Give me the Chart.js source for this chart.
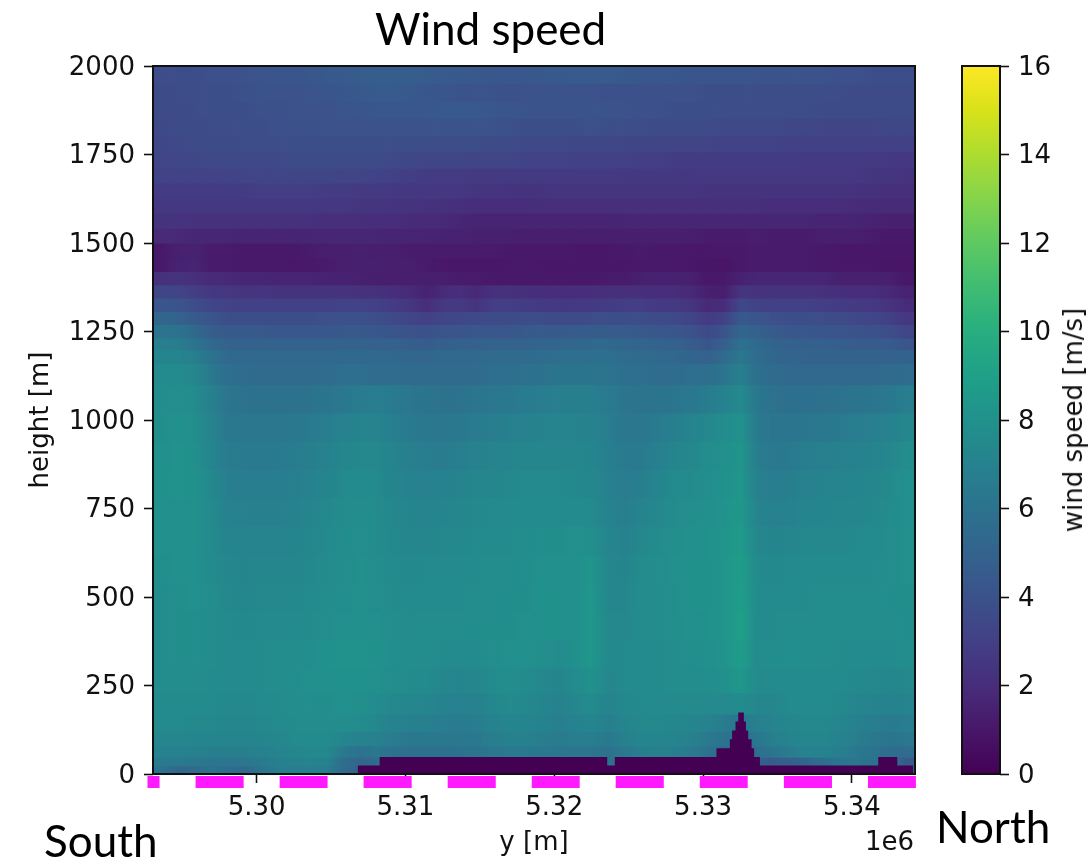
<!DOCTYPE html>
<html>
<head>
<meta charset="utf-8">
<title>Wind speed</title>
<script src="https://cdn.jsdelivr.net/npm/chart.js@4/dist/chart.umd.min.js"></script>
<style>
body{margin:0;background:#fff;width:1088px;height:859px;overflow:hidden;position:relative}
canvas{position:absolute;top:0}
.lbl{position:absolute;color:#000;white-space:nowrap;line-height:1}
.slide{font-family:Lato,sans-serif;font-size:44px}
.mpl{font-family:"DejaVu Sans",sans-serif;font-size:26px;color:#111}
</style>
</head>
<body>
<canvas id="heatChart" width="1088" height="859" style="left:0"></canvas>
<canvas id="barChart" width="158" height="859" style="left:930px"></canvas>
<div class="lbl slide" style="left:375px;top:6px">Wind speed</div>
<div class="lbl slide" style="left:44px;top:818px">South</div>
<div class="lbl slide" style="left:936px;top:804px">North</div>
<div class="lbl mpl" style="left:865px;top:828px">1e6</div>
<div class="lbl mpl" style="left:1073px;top:420px;transform:translate(-50%,-50%) rotate(-90deg)">wind speed [m/s]</div>
<script>
// grid columns, y [m]
const yCells=[5293600,5294710,5295820,5296940,5298050,5299160,5300280,5301390,5302500,5303610,5304730,5305840,5306950,5308070,5309180,5310290,5311400,5312520,5313630,5314740,5315860,5316970,5318080,5319190,5320310,5321420,5322530,5323650,5324760,5325870,5326980,5328100,5329210,5330320,5331440,5332550,5333660,5334770,5335890,5337000,5338110,5339230,5340340,5341450,5342560,5343680];
// row edges, height [m], top to bottom
const rowEdges=[2000,1952,1900,1853,1805,1758,1712,1670,1627,1585,1542,1500,1458,1420,1382,1345,1307,1270,1232,1199,1160,1100,1020,940,860,780,700,620,540,460,380,300,230,170,120,80,48,24,0];

// wind speed [m/s] per row
const row00=[3.7,3.8,3.8,3.9,3.9,4.0,4.1,4.2,4.2,4.3,4.4,4.5,4.6,4.7,4.7,4.7,4.6,4.5,4.4,4.4,4.3,4.3,4.3,4.4,4.4,4.5,4.5,4.5,4.4,4.3,4.3,4.3,4.2,4.2,4.2,4.2,4.1,4.1,4.1,4.0,4.0,3.9,3.9,3.8,3.8,3.8];
const row01=[3.6,3.7,3.7,3.8,3.8,3.9,4.0,4.0,4.0,4.1,4.2,4.3,4.4,4.5,4.5,4.4,4.3,4.2,4.1,4.1,4.0,3.9,4.0,4.0,4.0,4.0,4.0,3.9,3.9,3.9,3.9,3.9,3.9,3.8,3.8,3.8,3.7,3.7,3.7,3.7,3.7,3.7,3.6,3.6,3.6,3.6];
const row02=[3.6,3.6,3.7,3.8,3.8,3.8,3.9,3.9,4.0,4.0,4.0,4.1,4.2,4.3,4.3,4.3,4.3,4.4,4.4,4.4,4.3,4.2,4.1,4.1,4.1,4.1,4.1,4.0,4.0,3.9,3.9,3.8,3.8,3.8,3.7,3.7,3.7,3.7,3.7,3.7,3.6,3.6,3.6,3.6,3.6,3.6];
const row03=[3.5,3.6,3.6,3.7,3.7,3.8,3.8,3.9,3.9,3.9,4.0,4.0,4.0,4.0,4.0,4.0,4.0,4.1,4.1,4.1,4.0,3.9,3.8,3.8,3.8,3.8,3.9,3.8,3.7,3.7,3.6,3.6,3.6,3.6,3.5,3.5,3.5,3.5,3.4,3.4,3.3,3.3,3.3,3.3,3.4,3.4];
const row04=[3.4,3.5,3.6,3.6,3.6,3.7,3.7,3.7,3.8,3.8,3.8,3.8,3.8,3.8,3.7,3.7,3.7,3.7,3.7,3.7,3.6,3.6,3.5,3.5,3.5,3.4,3.4,3.4,3.3,3.3,3.3,3.2,3.2,3.2,3.1,3.1,3.1,3.1,3.0,3.0,3.0,3.0,3.0,3.0,3.0,3.0];
const row05=[3.3,3.4,3.4,3.5,3.5,3.5,3.5,3.5,3.6,3.6,3.6,3.6,3.6,3.6,3.5,3.4,3.3,3.3,3.3,3.2,3.2,3.2,3.1,3.1,3.1,3.0,3.0,3.0,3.0,2.9,2.9,2.8,2.8,2.8,2.8,2.8,2.8,2.8,2.8,2.7,2.7,2.7,2.7,2.7,2.6,2.5];
const row06=[3.1,3.1,3.1,3.1,3.1,3.2,3.2,3.3,3.3,3.3,3.3,3.2,3.2,3.1,3.0,2.9,2.8,2.8,2.8,2.7,2.7,2.7,2.7,2.7,2.7,2.7,2.7,2.7,2.6,2.6,2.6,2.6,2.5,2.5,2.5,2.5,2.5,2.5,2.5,2.5,2.5,2.5,2.5,2.4,2.4,2.3];
const row07=[2.8,2.8,2.8,2.8,2.8,2.8,2.9,2.9,2.9,2.9,2.8,2.8,2.7,2.7,2.6,2.6,2.5,2.5,2.5,2.4,2.4,2.3,2.3,2.3,2.4,2.4,2.4,2.4,2.4,2.4,2.4,2.4,2.4,2.3,2.3,2.3,2.3,2.3,2.3,2.3,2.3,2.3,2.2,2.2,2.1,2.1];
const row08=[2.6,2.6,2.6,2.6,2.6,2.6,2.6,2.6,2.6,2.6,2.5,2.5,2.4,2.4,2.3,2.3,2.2,2.2,2.1,2.0,2.0,2.0,2.0,2.1,2.1,2.1,2.1,2.1,2.1,2.1,2.1,2.1,2.1,2.1,2.1,2.1,2.1,2.0,2.0,2.0,2.0,2.0,1.9,1.9,1.9,1.9];
const row09=[2.3,2.3,2.2,2.2,2.2,2.2,2.2,2.2,2.2,2.2,2.1,2.1,2.1,2.0,2.0,1.9,1.9,1.8,1.7,1.6,1.6,1.6,1.6,1.6,1.6,1.6,1.6,1.6,1.7,1.7,1.7,1.7,1.7,1.7,1.7,1.7,1.7,1.7,1.7,1.7,1.6,1.6,1.6,1.5,1.4,1.4];
const row10=[1.9,1.8,1.7,1.7,1.7,1.6,1.6,1.6,1.6,1.7,1.7,1.7,1.7,1.7,1.6,1.6,1.6,1.5,1.5,1.4,1.4,1.4,1.3,1.3,1.3,1.3,1.3,1.3,1.3,1.3,1.3,1.3,1.3,1.2,1.2,1.2,1.3,1.2,1.2,1.2,1.3,1.3,1.3,1.2,1.1,1.1];
const row11=[1.1,1.4,1.5,1.2,1.2,1.1,1.1,1.1,1.1,1.2,1.3,1.3,1.4,1.3,1.3,1.2,1.2,1.2,1.2,1.2,1.2,1.1,1.1,1.1,1.1,1.0,1.0,1.0,1.1,1.2,1.1,1.1,1.0,1.0,1.1,1.1,1.2,1.2,1.2,1.2,1.1,1.0,1.0,1.0,1.0,1.0];
const row12=[1.1,1.5,1.6,1.2,1.2,1.1,1.1,1.1,1.0,1.1,1.2,1.3,1.4,1.4,1.3,1.3,1.2,1.0,1.0,1.0,1.0,1.0,1.1,1.0,1.0,1.0,1.0,1.0,1.0,1.1,1.1,1.1,1.0,0.9,0.9,1.1,1.2,1.2,1.2,1.2,1.1,1.0,1.0,1.0,0.9,0.9];
const row13=[2.2,2.3,2.1,1.9,1.8,1.7,1.7,1.6,1.6,1.6,1.5,1.5,1.4,1.3,1.3,1.3,1.3,1.3,1.2,1.2,1.1,1.1,1.1,1.1,1.1,1.1,1.1,1.2,1.2,1.4,1.5,1.5,1.4,1.0,1.1,1.5,1.7,1.7,1.7,1.7,1.7,1.4,1.4,1.4,1.4,1.0];
const row14=[3.3,3.2,2.9,2.6,2.5,2.4,2.4,2.3,2.3,2.3,2.3,2.3,2.2,2.2,2.0,1.9,1.5,1.9,2.1,1.8,2.2,2.2,2.1,2.0,2.0,2.0,2.1,2.1,2.1,2.1,2.0,2.0,1.8,1.4,1.3,2.4,2.3,2.3,2.3,2.3,2.2,2.1,2.0,2.0,1.8,1.5];
const row15=[4.2,4.1,3.7,3.3,3.1,3.0,3.0,3.0,3.0,3.0,3.0,3.1,3.1,3.0,2.8,2.5,2.0,2.6,2.7,2.3,2.9,2.9,2.8,2.7,2.6,2.6,2.7,2.8,2.9,2.9,2.7,2.7,2.4,1.8,2.0,3.4,3.1,3.0,3.0,3.0,2.9,2.8,2.7,2.6,2.3,1.9];
const row16=[5.2,5.0,4.5,4.1,3.8,3.8,3.8,3.8,3.8,3.8,3.9,3.9,3.9,3.8,3.5,3.3,3.0,3.3,3.4,3.5,3.6,3.6,3.7,3.7,3.6,3.6,3.7,3.8,3.8,3.7,3.6,3.5,3.2,2.7,3.1,4.4,4.2,3.9,3.8,3.8,3.7,3.6,3.4,3.3,3.0,2.5];
const row17=[6.1,6.0,5.4,4.7,4.4,4.4,4.4,4.3,4.3,4.3,4.3,4.4,4.4,4.3,4.2,4.0,3.9,4.1,4.2,4.3,4.3,4.3,4.4,4.5,4.4,4.5,4.6,4.6,4.5,4.4,4.3,4.3,4.0,3.5,4.1,5.2,4.8,4.5,4.3,4.3,4.2,4.1,4.0,3.9,3.8,3.3];
const row18=[6.8,6.7,6.1,5.4,5.0,4.9,5.0,5.0,5.0,5.0,5.0,5.0,5.0,4.9,4.9,4.7,4.6,4.8,4.9,4.9,5.0,5.0,5.0,5.1,5.2,5.2,5.3,5.3,5.2,5.1,5.0,4.9,4.6,4.2,4.8,5.9,5.4,5.0,4.9,4.8,4.8,4.7,4.6,4.5,4.5,4.2];
const row19=[7.2,7.2,6.8,6.0,5.4,5.3,5.3,5.3,5.3,5.3,5.3,5.4,5.4,5.3,5.3,5.2,5.2,5.3,5.4,5.4,5.5,5.5,5.5,5.6,5.7,5.7,5.8,5.8,5.6,5.5,5.4,5.3,5.1,4.9,5.5,6.3,5.6,5.2,5.1,5.0,5.0,5.0,5.0,5.0,5.0,5.0];
const row20=[7.5,7.6,7.3,6.4,5.7,5.6,5.5,5.5,5.5,5.5,5.6,5.7,5.7,5.6,5.6,5.5,5.5,5.5,5.5,5.5,5.7,5.8,5.9,6.0,6.1,6.1,6.1,6.0,5.8,5.7,5.6,5.6,5.7,5.7,6.2,6.8,5.8,5.5,5.4,5.3,5.3,5.3,5.4,5.4,5.5,5.6];
const row21=[7.7,7.8,7.6,6.9,6.2,6.0,6.0,6.0,6.0,6.0,6.2,6.4,6.6,6.7,6.5,6.3,6.1,6.0,6.0,6.2,6.3,6.4,6.6,6.7,6.8,6.8,6.8,6.5,6.2,6.0,6.1,6.2,6.4,6.6,7.0,7.5,6.3,5.9,5.8,5.8,5.9,6.0,6.1,6.2,6.4,6.7];
const row22=[7.8,8.0,7.8,7.1,6.4,6.3,6.3,6.3,6.4,6.5,6.7,7.0,7.1,7.1,6.8,6.5,6.4,6.3,6.4,6.6,6.7,6.9,7.0,7.1,7.1,7.1,7.0,6.7,6.3,6.3,6.6,6.8,7.1,7.4,7.7,8.0,6.5,6.2,6.2,6.3,6.4,6.5,6.7,6.8,7.0,7.3];
const row23=[7.9,8.1,7.9,7.2,6.6,6.5,6.5,6.5,6.6,6.8,7.0,7.3,7.4,7.4,7.1,6.8,6.7,6.6,6.8,7.0,7.1,7.2,7.3,7.3,7.3,7.3,7.2,6.8,6.5,6.5,6.9,7.2,7.4,7.7,7.9,8.2,6.7,6.4,6.5,6.7,6.8,6.9,7.0,7.1,7.3,7.7];
const row24=[8.0,8.1,8.0,7.4,6.8,6.7,6.7,6.7,6.8,7.0,7.2,7.5,7.6,7.5,7.2,7.0,6.9,7.0,7.1,7.3,7.3,7.4,7.5,7.5,7.5,7.4,7.3,6.9,6.6,6.8,7.2,7.5,7.6,7.8,8.0,8.3,6.9,6.6,6.8,7.0,7.1,7.1,7.2,7.3,7.5,7.9];
const row25=[7.9,8.0,7.9,7.5,7.0,6.9,6.9,6.9,7.0,7.2,7.4,7.6,7.7,7.6,7.3,7.2,7.1,7.2,7.3,7.4,7.5,7.5,7.6,7.6,7.6,7.6,7.5,7.0,6.8,7.1,7.4,7.6,7.8,7.9,8.1,8.4,7.1,6.9,7.0,7.2,7.2,7.3,7.3,7.4,7.6,7.9];
const row26=[7.9,8.0,7.9,7.5,7.2,7.1,7.1,7.1,7.2,7.3,7.5,7.7,7.8,7.6,7.4,7.3,7.3,7.4,7.4,7.5,7.6,7.6,7.7,7.8,7.8,7.9,7.8,7.2,7.0,7.4,7.6,7.8,7.9,8.0,8.2,8.6,7.3,7.2,7.3,7.4,7.4,7.4,7.5,7.5,7.7,7.9];
const row27=[7.8,7.9,7.9,7.6,7.3,7.2,7.3,7.3,7.3,7.4,7.6,7.7,7.9,7.7,7.5,7.4,7.5,7.5,7.5,7.6,7.7,7.7,7.8,7.9,7.9,7.9,8.2,7.3,7.2,7.6,7.7,7.9,8.0,8.0,8.2,8.8,7.5,7.4,7.5,7.5,7.6,7.6,7.6,7.6,7.7,7.9];
const row28=[7.7,7.8,7.9,7.7,7.4,7.3,7.4,7.4,7.4,7.5,7.7,7.8,7.9,7.8,7.6,7.5,7.6,7.6,7.6,7.7,7.7,7.8,7.8,8.0,8.0,7.9,8.3,7.3,7.3,7.6,7.7,7.8,8.0,8.0,8.2,8.8,7.6,7.5,7.6,7.6,7.7,7.7,7.7,7.7,7.8,7.8];
const row29=[7.7,7.8,7.8,7.7,7.5,7.4,7.5,7.5,7.5,7.6,7.8,7.9,8.0,7.9,7.7,7.6,7.7,7.7,7.7,7.8,7.8,7.8,7.9,8.0,8.0,7.9,8.3,7.4,7.4,7.6,7.7,7.8,7.9,8.0,8.2,8.9,7.6,7.6,7.7,7.7,7.7,7.7,7.7,7.7,7.7,7.8];
const row30=[7.7,7.8,7.8,7.7,7.5,7.5,7.6,7.7,7.7,7.8,8.0,8.1,8.1,8.0,7.8,7.7,7.7,7.6,7.5,7.6,7.8,7.9,7.9,7.8,7.6,7.9,8.3,7.4,7.5,7.6,7.6,7.7,7.8,7.9,8.1,8.8,7.6,7.7,7.8,7.7,7.7,7.6,7.6,7.6,7.6,7.7];
const row31=[7.7,7.7,7.7,7.6,7.5,7.5,7.6,7.7,7.8,7.9,7.9,8.0,8.0,7.9,7.7,7.6,7.5,7.3,7.2,7.3,7.6,7.7,7.6,7.4,7.2,7.6,8.0,7.3,7.5,7.6,7.6,7.7,7.7,7.8,7.9,8.4,7.5,7.5,7.6,7.6,7.6,7.5,7.4,7.4,7.3,7.4];
const row32=[7.6,7.6,7.6,7.5,7.4,7.4,7.5,7.6,7.7,7.8,7.8,7.9,7.8,7.6,7.4,7.3,7.2,7.0,6.9,7.0,7.3,7.5,7.4,7.2,7.0,7.3,7.6,7.1,7.4,7.5,7.5,7.5,7.5,7.5,7.5,7.6,7.3,7.3,7.5,7.5,7.5,7.4,7.2,7.1,7.0,7.1];
const row33=[7.5,7.5,7.4,7.4,7.3,7.3,7.4,7.5,7.6,7.7,7.7,7.7,7.6,7.3,7.0,6.9,6.8,6.7,6.6,6.7,7.0,7.2,7.2,7.0,6.8,7.0,7.2,6.8,7.2,7.4,7.4,7.3,7.2,7.0,6.6,6.3,6.9,7.1,7.3,7.4,7.4,7.2,6.9,6.7,6.5,6.7];
const row34=[7.3,7.3,7.2,7.2,7.1,7.1,7.2,7.3,7.5,7.6,7.6,7.2,7.0,6.9,6.6,6.4,6.4,6.4,6.3,6.4,6.7,6.9,6.9,6.7,6.5,6.7,6.7,6.4,6.9,7.2,7.2,7.1,6.9,6.5,6.0,6.0,6.3,6.8,7.1,7.3,7.3,7.0,6.7,6.4,6.1,6.3];
const row35=[7.0,7.0,6.9,6.8,6.8,6.8,6.9,7.1,7.3,7.4,7.4,6.4,6.0,6.3,6.0,5.9,6.0,6.0,6.0,6.1,6.3,6.5,6.5,6.4,6.2,6.3,6.2,6.0,6.5,6.8,6.9,6.8,6.5,6.0,5.5,5.5,5.8,6.2,6.7,7.0,7.0,6.8,6.4,6.1,5.6,5.6];
const row36=[6.5,6.5,6.4,6.2,6.2,6.3,6.5,6.8,7.0,7.1,7.0,5.6,5.2,5.6,6.0,6.0,6.0,6.0,6.0,6.0,6.0,6.0,6.0,6.0,6.0,6.0,6.0,6.0,6.0,6.0,6.0,6.0,6.0,6.0,6.0,6.0,4.8,4.6,4.8,5.2,5.8,6.2,6.3,6.0,6.0,4.4];
const row37=[6.0,5.3,5.5,6.0,5.6,5.4,6.2,6.7,6.7,6.7,6.7,5.6,4.9,5.0,5.0,5.0,5.0,5.0,5.0,5.0,5.0,5.0,5.0,5.0,5.0,5.0,5.0,5.0,5.0,5.0,5.0,5.0,5.0,5.0,5.0,5.0,5.0,5.0,5.0,5.0,5.0,5.0,5.0,5.0,5.0,5.0];
const speedRows=[row00,row01,row02,row03,row04,row05,row06,row07,row08,row09,row10,row11,row12,row13,row14,row15,row16,row17,row18,row19,row20,row21,row22,row23,row24,row25,row26,row27,row28,row29,row30,row31,row32,row33,row34,row35,row36,row37];

// terrain outline
const terrainY=[5306790,5308270,5323560,5324070,5330900,5331800,5331950,5332180,5332360,5332740,5332880,5333030,5333260,5333430,5333820,5341770,5343050,5344120];
const terrainTop=[24,48,24,48,73,98,123,148,174,148,123,98,73,48,24,48,24,24];

// magenta strips under the axis
const stripStart=[5292670,5295900,5301550,5307190,5312840,5318490,5324130,5329780,5335430,5341080];
const stripEnd=[5293480,5299130,5304770,5310420,5316070,5321710,5327360,5333000,5338660,5344300];
const stripLevel=-22.6;

const xTickValues=[5300000,5310000,5320000,5330000,5340000];
const xTickLabels=["5.30","5.31","5.32","5.33","5.34"];
const yTickValues=[0,250,500,750,1000,1250,1500,1750,2000];
const barTickValues=[0,2,4,6,8,10,12,14,16];

const viridis=["#440154","#481769","#472d7b","#424086","#3b528b","#33638d","#2c728e","#26828e","#21918c","#1fa088","#28ae80","#3fbc73","#5ec962","#84d44b","#addc30","#d8e219","#fde725"];

const tickFont={family:"'DejaVu Sans'",size:26};
const inkColor="#111";

function hexToRgb(h){
  return [parseInt(h.slice(1,3),16),parseInt(h.slice(3,5),16),parseInt(h.slice(5,7),16)];
}
function speedColor(v){
  const i=Math.min(Math.floor(v),15);
  const f=v-i;
  const a=hexToRgb(viridis[i]),b=hexToRgb(viridis[i+1]);
  return "rgb("+a.map((c,k)=>Math.round(c+(b[k]-c)*f)).join(",")+")";
}

// cell shading fades into its neighbours, like the smoothed image
function cellFill(row){
  return (ctx)=>{
    const i=ctx.dataIndex;
    const chart=ctx.chart;
    if(i===undefined||!chart.chartArea)return speedColor(row[0]);
    const px=chart.scales.x.getPixelForValue(yCells[i]);
    const prev=i>0?row[i-1]:row[i];
    const next=i<row.length-1?row[i+1]:row[i];
    const g=chart.ctx.createLinearGradient(px-8.3,0,px+8.3,0);
    g.addColorStop(0,speedColor((prev+row[i])/2));
    g.addColorStop(0.5,speedColor(row[i]));
    g.addColorStop(1,speedColor((next+row[i])/2));
    return g;
  };
}

const framePlugin={
  id:"frame",
  afterDatasetsDraw(chart){
    const {ctx,chartArea:a}=chart;
    ctx.save();
    ctx.strokeStyle=inkColor;
    ctx.lineWidth=2;
    ctx.strokeRect(a.left,a.top,a.right-a.left,a.bottom-a.top);
    ctx.restore();
  }
};

const heatSets=speedRows.map((row,r)=>({
  type:"bar",
  data:yCells.map((x,i)=>({x:x,y:[rowEdges[r+1],rowEdges[r]]})),
  backgroundColor:cellFill(row),
  barThickness:17.6,
  grouped:false,
  inflateAmount:0.6,
  borderWidth:0,
  order:1
}));

const stripPoints=[];
stripStart.forEach((s,i)=>{
  stripPoints.push({x:s,y:stripLevel},{x:stripEnd[i],y:stripLevel},{x:stripEnd[i],y:null});
});

new Chart(document.getElementById("heatChart"),{
  type:"bar",
  data:{datasets:[
    {
      type:"line",
      data:terrainY.map((x,i)=>({x:x,y:terrainTop[i]})),
      stepped:true,
      fill:"origin",
      backgroundColor:"#440154",
      borderWidth:0,
      pointRadius:0,
      order:-1
    },
    {
      type:"line",
      data:stripPoints,
      borderColor:"#ff19ff",
      borderWidth:12,
      pointRadius:0,
      spanGaps:false,
      clip:false,
      order:-2
    },
    ...heatSets
  ]},
  options:{
    responsive:false,
    animation:false,
    layout:{padding:{top:66,right:173,left:0,bottom:0}},
    plugins:{legend:{display:false},tooltip:{enabled:false},title:{display:false}},
    scales:{
      x:{
        type:"linear",
        min:5293040,
        max:5344240,
        offset:false,
        afterFit(s){s.height=85},
        afterBuildTicks(s){s.ticks=xTickValues.map(v=>({value:v}))},
        grid:{offset:false,drawOnChartArea:false,tickLength:9,tickWidth:1.6,tickColor:inkColor},
        border:{display:false},
        ticks:{font:tickFont,color:inkColor,padding:10,maxRotation:0,autoSkip:false,callback:(v,i)=>xTickLabels[i]},
        title:{display:true,text:"y [m]",font:tickFont,color:inkColor,padding:{top:0,bottom:0}}
      },
      y:{
        type:"linear",
        min:0,
        max:2000,
        afterFit(s){s.width=153},
        afterBuildTicks(s){s.ticks=yTickValues.map(v=>({value:v}))},
        grid:{drawOnChartArea:false,tickLength:9,tickWidth:1.6,tickColor:inkColor},
        border:{display:false},
        ticks:{font:tickFont,color:inkColor,padding:9,autoSkip:false,labelOffset:2,callback:(v)=>String(v)},
        title:{display:true,text:"height [m]",font:tickFont,color:inkColor,padding:{top:26,bottom:0}}
      }
    }
  },
  plugins:[framePlugin]
});

new Chart(document.getElementById("barChart"),{
  type:"bar",
  data:{
    labels:["wind speed"],
    datasets:[{
      data:[[0,16]],
      barPercentage:1,
      categoryPercentage:1,
      backgroundColor(ctx){
        const a=ctx.chart.chartArea;
        if(!a)return viridis[8];
        const g=ctx.chart.ctx.createLinearGradient(0,a.bottom,0,a.top);
        viridis.forEach((c,i)=>g.addColorStop(i/16,c));
        return g;
      }
    }]
  },
  options:{
    responsive:false,
    animation:false,
    layout:{padding:{top:66,left:32,bottom:85,right:0}},
    plugins:{legend:{display:false},tooltip:{enabled:false}},
    scales:{
      x:{display:false},
      y:{
        position:"right",
        min:0,
        max:16,
        afterFit(s){s.width=88},
        afterBuildTicks(s){s.ticks=barTickValues.map(v=>({value:v}))},
        grid:{drawOnChartArea:false,tickLength:9,tickWidth:1.6,tickColor:inkColor},
        border:{display:false},
        ticks:{font:tickFont,color:inkColor,padding:9,autoSkip:false,labelOffset:2}
      }
    }
  },
  plugins:[framePlugin]
});
</script>
</body>
</html>
